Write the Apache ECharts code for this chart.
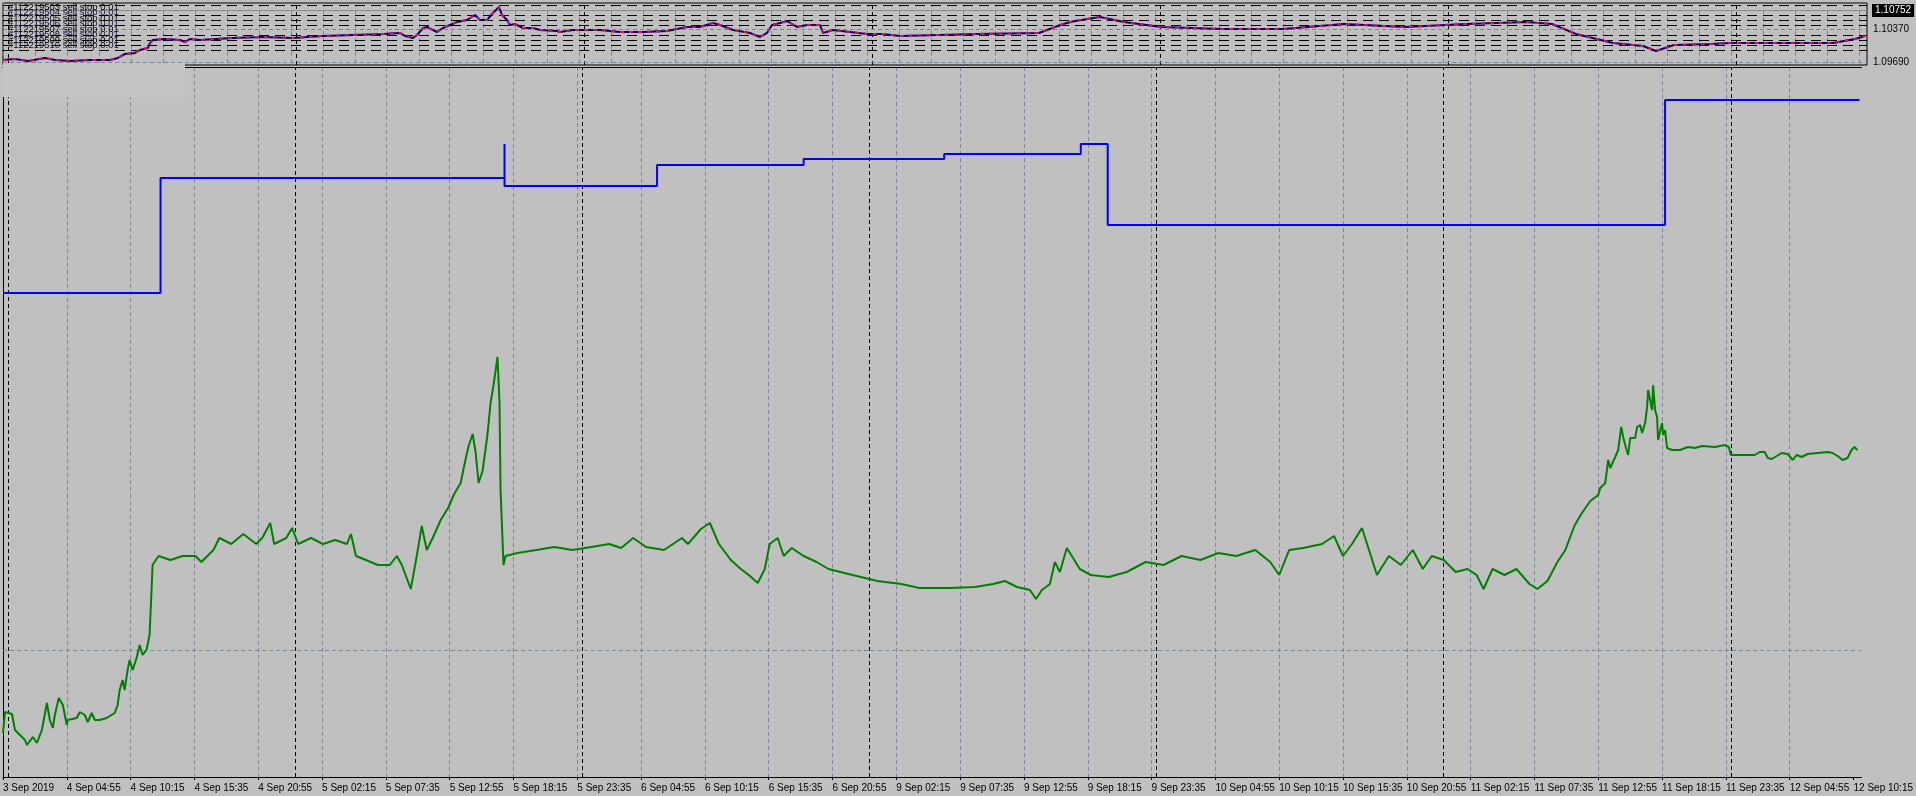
<!DOCTYPE html>
<html><head><meta charset="utf-8">
<script src="https://cdn.jsdelivr.net/npm/echarts@6/dist/echarts.min.js"></script>
<style>html,body{margin:0;padding:0;background:#c0c0c0;overflow:hidden}#chart{width:1916px;height:796px}</style>
</head><body><div id="chart"></div>
<script>
// ---------- DATA ----------
// x values are M5 bar numbers counted from the first bar (3 Sep 2019 23:35)
const barsPerLabel = 64;
const tickLabels = ['3 Sep 2019','4 Sep 04:55','4 Sep 10:15','4 Sep 15:35','4 Sep 20:55','5 Sep 02:15','5 Sep 07:35','5 Sep 12:55','5 Sep 18:15','5 Sep 23:35','6 Sep 04:55','6 Sep 10:15','6 Sep 15:35','6 Sep 20:55','9 Sep 02:15','9 Sep 07:35','9 Sep 12:55','9 Sep 18:15','9 Sep 23:35','10 Sep 04:55','10 Sep 10:15','10 Sep 15:35','10 Sep 20:55','11 Sep 02:15','11 Sep 07:35','11 Sep 12:55','11 Sep 18:15','11 Sep 23:35','12 Sep 04:55','12 Sep 10:15'];
const daySeparatorBars = [5, 293, 581, 869, 1157, 1445, 1733];
const totalBars = 1864;

// price window (EURUSD)
const priceAxisLabels = [1.09690, 1.10370];
const priceGridLevels = [1.09690, 1.10370];
const bidPrice = 1.10752;
const orderLevels = [1.10865, 1.10658, 1.10555, 1.10452, 1.10246, 1.10143, 1.10040, 1.09937];
const orderTexts = ['#112219503 sell stop 0.01','#112219504 sell stop 0.01','#112219505 sell stop 0.01','#112219506 sell stop 0.01','#112219507 sell stop 0.01','#112219508 sell stop 0.01','#112219509 sell stop 0.01','#112219510 sell stop 0.01'];
const priceBars = [0,12,25,42,52,67,87,107,115,122,132,137,145,147,150,162,177,182,187,197,230,260,290,320,350,380,397,402,410,414,420,424,430,434,440,454,464,472,477,484,490,496,499,504,507,512,520,530,537,554,557,570,597,617,630,640,664,684,697,710,717,730,747,757,764,769,777,784,794,804,817,820,830,847,864,880,897,974,1036,1060,1072,1097,1121,1158,1219,1280,1341,1402,1463,1524,1549,1573,1610,1640,1653,1671,1708,1727,1769,1830,1852,1862];
const priceVals = [1.09731,1.09752,1.09711,1.09773,1.09731,1.09711,1.09731,1.09731,1.09773,1.09855,1.09876,1.09937,1.09979,1.10082,1.10143,1.10164,1.10143,1.10102,1.10164,1.10143,1.10185,1.10205,1.10185,1.10226,1.10246,1.10267,1.10288,1.10226,1.10185,1.10246,1.10391,1.10411,1.10349,1.10308,1.10391,1.10514,1.10555,1.10658,1.10555,1.10555,1.10700,1.10823,1.10658,1.10555,1.10452,1.10473,1.10391,1.10391,1.10349,1.10329,1.10308,1.10349,1.10349,1.10308,1.10308,1.10308,1.10329,1.10411,1.10411,1.10494,1.10452,1.10349,1.10288,1.10205,1.10288,1.10452,1.10494,1.10535,1.10411,1.10452,1.10452,1.10288,1.10349,1.10308,1.10267,1.10267,1.10226,1.10267,1.10288,1.10473,1.10535,1.10617,1.10514,1.10411,1.10370,1.10370,1.10473,1.10411,1.10473,1.10514,1.10473,1.10267,1.10082,1.10020,1.09917,1.10040,1.10061,1.10082,1.10082,1.10082,1.10164,1.10226];

// indicator window
const subGridLevels = [254];
const balanceBars = [0,158,503,503,656,803,944,1081,1108,1667,1862];
const balanceVals = [968,1198,1266,1182,1224,1236,1246,1266,1104,1354,1354];
const greenBars = [0,2,9,12,17,22,24,30,34,39,44,47,50,52,56,60,64,65,74,77,82,85,89,92,97,104,112,115,117,120,122,125,127,130,134,137,140,144,146,147,149,150,156,168,180,193,199,211,217,229,241,254,260,268,272,284,290,296,309,321,333,345,349,354,364,376,388,395,400,409,415,420,425,431,439,447,452,459,464,467,471,474,477,481,486,489,492,496,498,499,502,504,516,535,553,571,590,608,620,632,645,663,681,687,700,709,718,730,740,748,757,764,769,777,783,791,803,816,828,852,877,901,919,950,975,993,1005,1017,1030,1036,1042,1050,1055,1060,1067,1072,1080,1091,1109,1127,1146,1164,1182,1201,1219,1237,1256,1271,1280,1290,1304,1323,1335,1344,1353,1363,1372,1378,1390,1402,1414,1424,1433,1445,1457,1469,1478,1485,1494,1506,1518,1531,1539,1549,1559,1567,1576,1583,1592,1600,1602,1607,1610,1612,1617,1620,1623,1625,1627,1630,1632,1637,1639,1642,1644,1647,1649,1650,1652,1654,1655,1657,1659,1660,1664,1665,1667,1669,1674,1682,1690,1697,1704,1717,1727,1731,1733,1757,1762,1767,1770,1774,1779,1784,1790,1795,1799,1804,1810,1820,1830,1835,1840,1845,1847,1850,1854,1857,1860];
const greenVals = [88,130,126,94,84,74,64,80,68,94,148,114,98,124,158,144,104,114,118,130,124,110,128,114,114,118,128,144,174,194,174,214,234,214,238,264,244,254,274,284,374,424,442,434,442,442,430,454,478,466,486,466,478,508,466,478,498,466,478,466,474,466,486,442,434,424,424,442,424,376,442,502,454,478,514,540,564,588,636,662,686,650,588,612,686,748,784,840,748,576,424,442,448,454,460,454,460,466,458,478,460,454,478,466,496,508,466,434,416,404,388,416,466,478,442,458,442,430,416,404,392,386,378,378,380,386,392,380,374,356,374,386,430,410,458,442,416,404,400,410,430,424,442,434,448,442,454,430,404,454,458,466,482,442,466,498,442,404,442,424,454,416,442,434,410,416,404,376,416,404,416,386,376,392,430,454,502,526,552,564,578,588,634,618,640,654,700,680,664,644,678,678,700,704,688,708,740,774,754,734,784,734,720,674,708,684,694,658,654,654,660,658,662,660,664,660,644,644,650,650,638,636,642,648,646,634,644,640,646,648,650,648,642,634,630,638,654,660,654];

// ---------- CHART ----------
const zip = (a, b) => a.map((x, i) => [x, b[i]]);
const labelBars = tickLabels.map((_, i) => i * barsPerLabel);
const FONT = '"Liberation Sans", Arial, sans-serif';
const GRID = '#778899';
const priceStep = (1.10370 - 1.09690) / 33;
const priceMin = 1.09690 - 3 * priceStep;
const priceMax = 1.10370 + 26 * priceStep;
const dash = { color: GRID, type: [4, 3], width: 1 };
const sepStyle = { color: '#000', type: [4, 3], width: 1 };

const chart = echarts.init(document.getElementById('chart'), null, { renderer: 'canvas' });
const option = {
  animation: false,
  backgroundColor: '#c0c0c0',
  grid: [
    { left: 3, right: 49, top: 3, height: 62, show: true, borderColor: '#000', borderWidth: 1, backgroundColor: 'transparent' },
    { left: 3, right: 49, top: 67, height: 710 }
  ],
  xAxis: [
    { gridIndex: 0, type: 'value', min: 0, max: totalBars, interval: 32,
      axisLine: { show: false }, axisTick: { show: false }, axisLabel: { show: false },
      splitLine: { show: true, showMaxLine: false, lineStyle: dash } },
    { gridIndex: 1, type: 'value', position: 'bottom', min: 0, max: totalBars, interval: 32,
      axisLine: { show: true, lineStyle: { color: '#000', width: 1 } },
      axisTick: { show: true, customValues: labelBars, length: 3, lineStyle: { color: '#000' } },
      axisLabel: { show: true, customValues: labelBars, formatter: v => tickLabels[Math.round(v / barsPerLabel)] || '',
        align: 'left', color: '#000', fontSize: 10, fontFamily: FONT, margin: 6 },
      splitLine: { show: true, showMaxLine: false, showMinLine: false, lineStyle: dash } },
    { gridIndex: 1, type: 'value', position: 'top', min: 0, max: totalBars,
      axisLine: { show: true, lineStyle: { color: '#000', width: 1 } },
      axisTick: { show: false }, axisLabel: { show: false }, splitLine: { show: false } }
  ],
  yAxis: [
    { gridIndex: 0, type: 'value', position: 'right', min: priceMin, max: priceMax,
      axisLine: { show: false },
      axisTick: { show: true, customValues: priceAxisLabels, length: 4, lineStyle: { color: '#000' } },
      axisLabel: { show: true, customValues: priceAxisLabels, formatter: v => v.toFixed(5), color: '#000', fontSize: 10, fontFamily: FONT, margin: 6 },
      splitLine: { show: false } },
    { gridIndex: 1, type: 'value', min: 0, max: 1420,
      axisLine: { show: true, lineStyle: { color: '#000', width: 1 } },
      axisTick: { show: false }, axisLabel: { show: false }, splitLine: { show: false } }
  ],
  series: [
    { name: 'price', type: 'line', xAxisIndex: 0, yAxisIndex: 0, data: zip(priceBars, priceVals),
      showSymbol: false, lineStyle: { color: '#000080', width: 2 }, z: 3, silent: true,
      markLine: { silent: true, z: 1, precision: 5, symbol: ['none', 'none'], animation: false,
        data: [
          ...daySeparatorBars.map(b => ({ xAxis: b, lineStyle: sepStyle, label: { show: false } })),
          ...priceGridLevels.map(p => ({ yAxis: p, lineStyle: dash, label: { show: false } })),
          ...orderLevels.map(p => ({ yAxis: p, lineStyle: { color: '#000', type: [10, 6], width: 1 }, label: { show: false } })),
          { yAxis: bidPrice, lineStyle: { color: '#8c8c8c', type: 'solid', width: 1 },
            label: { show: true, position: 'end', distance: 5, formatter: () => bidPrice.toFixed(5), backgroundColor: '#000', color: '#fff',
              padding: [2, 3, 1, 3], fontSize: 10, fontFamily: FONT } }
        ] } },
    { name: 'price-down', type: 'line', xAxisIndex: 0, yAxisIndex: 0, data: zip(priceBars, priceVals),
      showSymbol: false, lineStyle: { color: '#dc143c', width: 2, type: [4, 5] }, z: 4, silent: true },
    { name: 'balance', type: 'line', xAxisIndex: 1, yAxisIndex: 1, step: 'end', data: zip(balanceBars, balanceVals),
      showSymbol: false, lineStyle: { color: '#0000ff', width: 2 }, z: 3, silent: true },
    { name: 'equity', type: 'line', xAxisIndex: 1, yAxisIndex: 1, data: zip(greenBars, greenVals),
      showSymbol: false, lineStyle: { color: '#008000', width: 2 }, z: 3, silent: true,
      markLine: { silent: true, z: 1, precision: 2, symbol: ['none', 'none'], animation: false,
        data: [
          ...daySeparatorBars.map(b => ({ xAxis: b, lineStyle: sepStyle, label: { show: false } })),
          ...subGridLevels.map(v => ({ yAxis: v, lineStyle: dash, label: { show: false } }))
        ] } }
  ],
  graphic: [
    { type: 'rect', left: 3, top: 63, shape: { width: 182, height: 34 }, style: { fill: '#c5c5c5' }, z: 100, silent: true },
    ...orderTexts.map((t, i) => ({ type: 'text', left: 8, top: 2 + i * 5.5, z: 101, silent: true,
      style: { text: t, fill: i % 2 ? '#101030' : '#000', font: '9.5px ' + FONT } }))
  ]
};
chart.setOption(option);
</script></body></html>
